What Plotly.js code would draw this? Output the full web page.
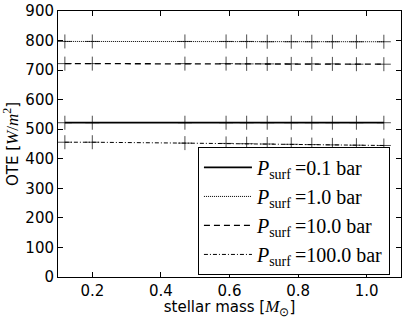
<!DOCTYPE html>
<html>
<head>
<meta charset="utf-8">
<script src="https://cdn.plot.ly/plotly-3.0.1.min.js"></script>
<style>html,body{margin:0;padding:0;background:#fff;}#chart{width:407px;height:319px;}</style>
</head>
<body>
<div id="chart"></div>
<script>
var stellarMass = [0.12, 0.2, 0.47, 0.59, 0.65, 0.71, 0.78, 0.84, 0.90, 0.97, 1.05];
var ote_p0_1 = [522, 522, 522, 522, 522, 522, 522, 522, 522, 522, 522];
var ote_p1_0 = [797, 797, 797, 797, 797, 796, 796, 796, 796, 796, 796];
var ote_p10_0 = [722, 722, 722, 722, 721, 721, 721, 721, 721, 720, 720];
var ote_p100_0 = [456, 456, 453, 452, 451, 450, 449, 448, 447, 446, 445];
var seriesNames = ["0.1", "1.0", "10.0", "100.0"];
var xTicks = [0.2, 0.4, 0.6, 0.8, 1.0];
var xTickText = ["0.2", "0.4", "0.6", "0.8", "1.0"];
var yTicks = [0, 100, 200, 300, 400, 500, 600, 700, 800, 900];

function legendName(p) {
  return '<i>P</i><sub>surf</sub>\u2009=' + p + ' bar';
}
var seriesData = [ote_p0_1, ote_p1_0, ote_p10_0, ote_p100_0];
var dashes = ["solid", "1px,1px", "6px,4px", "4px,2px,1px,2px"];
var widths = [1.8, 1, 1.3, 1];
var traces = [];
for (var i = 0; i < seriesData.length; i++) {
  traces.push({
    x: stellarMass, y: seriesData[i], type: "scatter", mode: "lines",
    name: legendName(seriesNames[i]),
    line: {color: "#000", width: widths[i], dash: dashes[i]},
    showlegend: true, legendrank: i
  });
  traces.push({
    x: stellarMass, y: seriesData[i], type: "scatter", mode: "markers",
    marker: {symbol: "cross-thin", size: 10, color: "#000", line: {color: "#000", width: 0.7}},
    showlegend: false, hoverinfo: "skip"
  });
}

var layout = {
  width: 407, height: 319,
  margin: {l: 58, r: 6, t: 11, b: 42},
  paper_bgcolor: "#fff", plot_bgcolor: "#fff",
  font: {family: "DejaVu Sans", size: 15, color: "#000"},
  showlegend: true,
  legend: {
    x: 0.408, y: 0.489, xanchor: "left", yanchor: "top",
    bgcolor: "#fff", bordercolor: "#000", borderwidth: 1,
    font: {family: "Liberation Serif", size: 20, color: "#000"},
    itemwidth: 48, tracegroupgap: 0
  },
  xaxis: {
    range: [0.1, 1.1], tickvals: xTicks, ticktext: xTickText,
    ticks: "inside", ticklen: 5, tickcolor: "#000", tickwidth: 1,
    showline: true, linecolor: "#000", linewidth: 1, mirror: "ticks",
    showgrid: false, zeroline: false,
    tickfont: {family: "DejaVu Sans", size: 15},
    title: {text: 'stellar mass [<span style="font-family:Liberation Serif;font-size:17px"><i>M</i><sub>⊙</sub></span>]',
            font: {family: "DejaVu Sans", size: 15}, standoff: 2}
  },
  yaxis: {
    range: [0, 900], tickvals: yTicks,
    ticks: "inside", ticklen: 5, tickcolor: "#000", tickwidth: 1,
    showline: true, linecolor: "#000", linewidth: 1, mirror: "ticks",
    showgrid: false, zeroline: false,
    tickfont: {family: "DejaVu Sans", size: 15},
    title: {text: 'OTE [<span style="font-family:Liberation Serif;font-size:17px"><i>W</i>/<i>m</i><sup>2</sup></span>]',
            font: {family: "DejaVu Sans", size: 15}, standoff: 3}
  }
};
Plotly.newPlot("chart", traces, layout, {displayModeBar: false, staticPlot: true});
</script>
</body>
</html>
